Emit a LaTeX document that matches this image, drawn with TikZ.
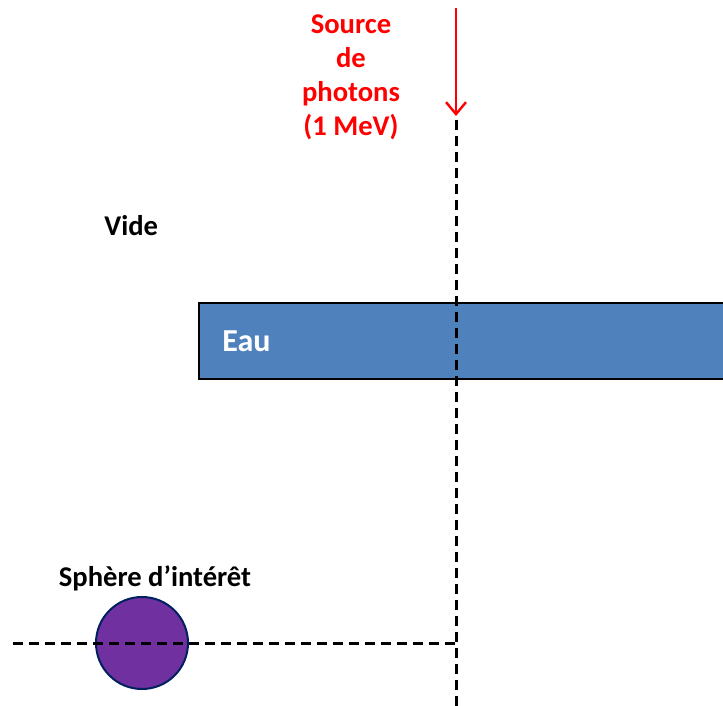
\documentclass[tikz,border=0pt]{standalone}
\usepackage{fontspec}
\setmainfont{Carlito}
\usetikzlibrary{arrows.meta}
\definecolor{eaublue}{HTML}{4F81BD}
\definecolor{violet}{HTML}{7030A0}
\definecolor{navy}{HTML}{002060}
\definecolor{srcred}{HTML}{FF0000}
\tikzset{
  lbl/.style={font=\fontsize{14.3}{17}\selectfont\bfseries, inner sep=0pt, align=center},
  axe/.style={line width=1.5pt, dash pattern=on 5pt off 3pt}
}
\begin{document}
\begin{tikzpicture}[line cap=butt, x=0.5pt, y=-0.5pt]
  \useasboundingbox (0,0) rectangle (723,706);
  \clip (0,0) rectangle (723,706);
  % eau
  \draw[line width=1pt, fill=eaublue] (199,303) rectangle (740,379);
  \node[lbl, text=white, anchor=west, font=\fontsize{16}{19}\selectfont\bfseries] (eau) at (222,341) {Eau};
  % sphere
  \node[circle, draw=navy, fill=violet, line width=1pt, minimum size=46pt, inner sep=0pt] (sph) at (142,643) {};
  \node[lbl] (sphlbl) at (155,578) {Sphère d’intérêt};
  \node[lbl, anchor=west] (vide) at (104,226) {Vide};
  % source
  \node[lbl, text=srcred] (src) at (351,77) {Source\\de\\photons\\(1 MeV)};
  \coordinate (s0) at (456,8);
  \coordinate (s1) at (456,116);
  \draw[srcred, line width=1.2pt, -{Straight Barb[length=6pt, width=10pt, line width=1.2pt]}] (s0) -- (s1);
  % axes
  \coordinate (v0) at (456,120);
  \coordinate (v1) at (456,706);
  \coordinate (h0) at (13,643);
  \coordinate (h1) at (456,643);
  \draw[axe] (v0) -- (v1);
  \draw[axe] (h0) -- (h1);
\end{tikzpicture}
\end{document}
